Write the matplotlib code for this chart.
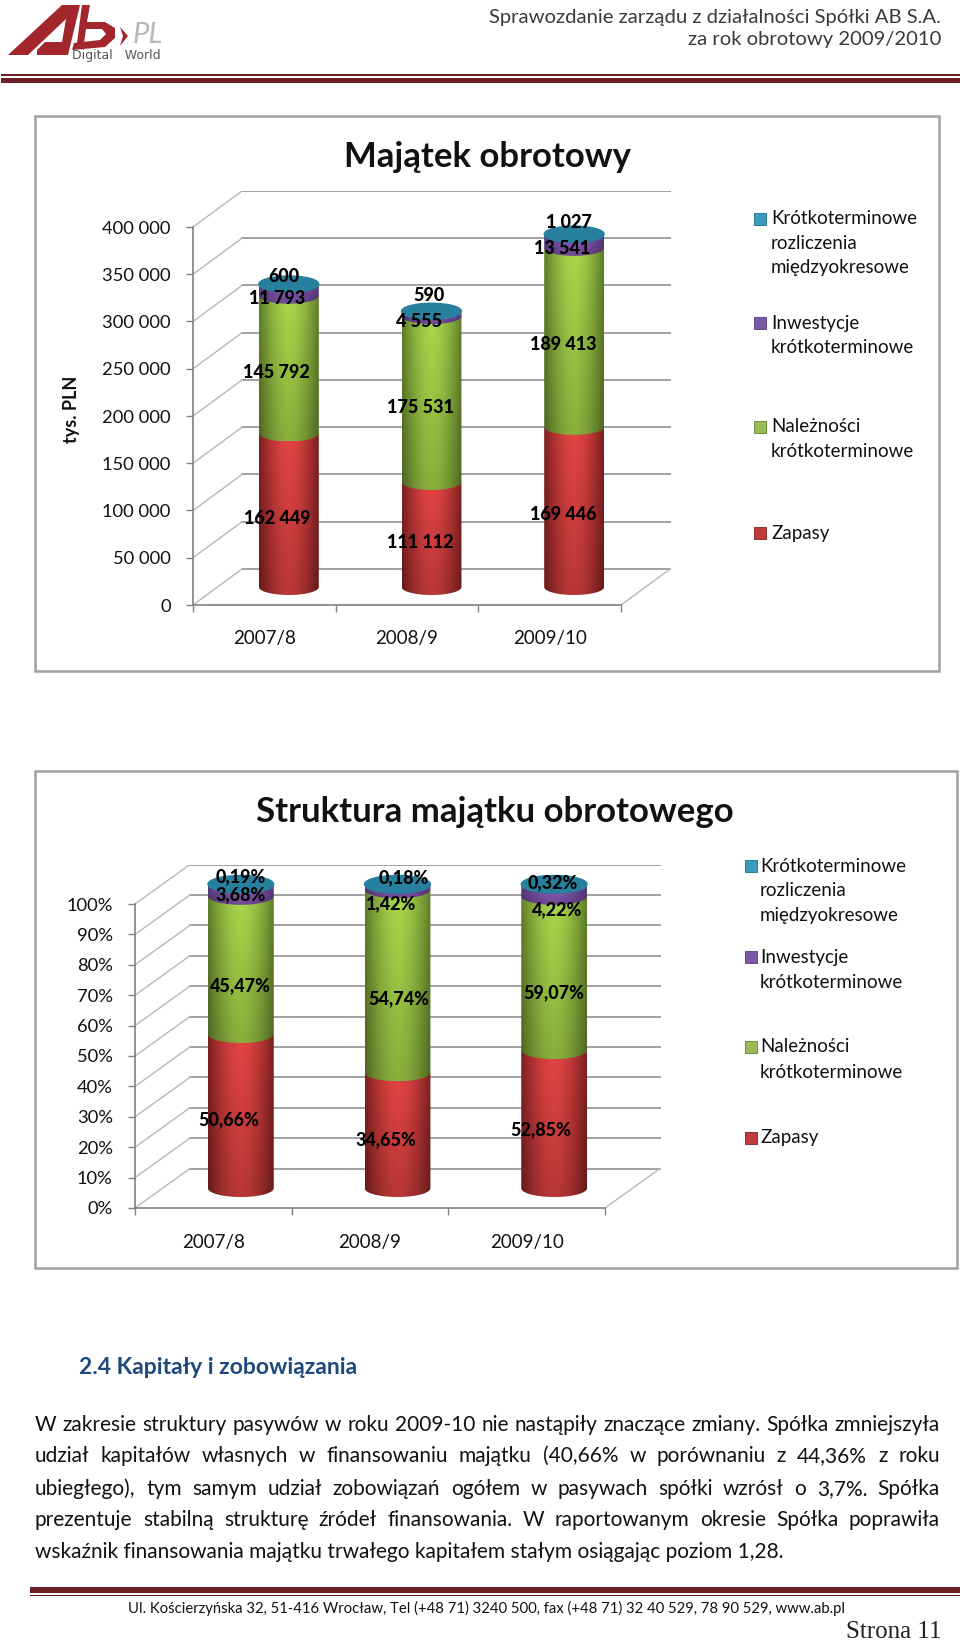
import numpy as np
import matplotlib
matplotlib.use("Agg")
import matplotlib.pyplot as plt
from matplotlib.patches import Rectangle, Polygon, PathPatch
from matplotlib.path import Path
from matplotlib.ticker import FuncFormatter

plt.rcParams["font.family"] = ["Lato", "DejaVu Sans"]

W, H = 960, 1642

# Dane
years = ["2007/8", "2008/9", "2009/10"]
series_names = ["Zapasy", "Należności\nkrótkoterminowe", "Inwestycje\nkrótkoterminowe",
                "Krótkoterminowe\nrozliczenia\nmiędzyokresowe"]
zapasy = [162449, 111112, 169446]
naleznosci = [145792, 175531, 189413]
inwestycje = [11793, 4555, 13541]
rozliczenia = [600, 590, 1027]

zapasy_pct = [50.66, 34.65, 52.85]
naleznosci_pct = [45.47, 54.74, 59.07]
inwestycje_pct = [3.68, 1.42, 4.22]
rozliczenia_pct = [0.19, 0.18, 0.32]

ticks_pln = [0, 50000, 100000, 150000, 200000, 250000, 300000, 350000, 400000]
ticks_pct = [0, 10, 20, 30, 40, 50, 60, 70, 80, 90, 100]

title_1 = "Majątek obrotowy"
title_2 = "Struktura majątku obrotowego"
unit_label = "tys. PLN"
header_lines = ["Sprawozdanie zarządu z działalności Spółki AB S.A.", "za rok obrotowy 2009/2010"]
heading = "2.4 Kapitały i zobowiązania"
body_lines = [
    "W zakresie struktury pasywów w roku 2009-10 nie nastąpiły znaczące zmiany. Spółka zmniejszyła",
    "udział kapitałów własnych w finansowaniu majątku (40,66% w porównaniu z 44,36% z roku",
    "ubiegłego), tym samym udział zobowiązań ogółem w pasywach spółki wzrósł o 3,7%.  Spółka",
    "prezentuje stabilną strukturę źródeł finansowania. W raportowanym okresie Spółka poprawiła",
    "wskaźnik finansowania majątku trwałego kapitałem stałym osiągając poziom 1,28.",
]
footer = "Ul. Kościerzyńska 32, 51-416 Wrocław, Tel (+48 71) 3240 500, fax (+48 71) 32 40 529, 78 90 529, www.ab.pl"
page = "Strona 11"

# Kolory (jasny srodek, ciemna krawedz)
light = ["#e24444", "#a8d64a", "#8a5ab5", "#2f8fae"]
dark = ["#7d1f1f", "#5f7d2a", "#5a3a80", "#1f6f8a"]
swatch = ["#c0393b", "#9bbb59", "#7a5aa6", "#3a9cbc"]
GRID = "#9a9a9a"
TEXT = "#111111"

# przesuniecia etykiet w pikselach (x, w dol): wiersz = seria, kolumna = rok
offs_pln = [[(-12, 8), (-11, 8), (-11, 8)],
            [(-12, 8), (-11, 8), (-11, 7)],
            [(-12, 8), (-12, 8), (-12, 7)],
            [(-5, -8), (-3, -16), (-5, -12)]]
offs_pct = [[(-12, 8), (-12, 9), (-13, 10)],
            [(0, 21), (1, 18), (0, 20)],
            [(0, 4), (-6, 16), (3, 19)],
            [(0, -8), (6, -7), (-1, -2)]]

fig = plt.figure(figsize=(W / 100, H / 100), dpi=100)

# warstwa strony w pikselach
page_ax = fig.add_axes([0, 0, 1, 1])
page_ax.set_xlim(0, W)
page_ax.set_ylim(H, 0)
page_ax.axis("off")


def hex_rgb(c):
    return np.array(matplotlib.colors.to_rgb(c))


def cylinder(ax, x, y0, y1, hw, cap, idx):
    # gradient poziomy, przyciety do ksztaltu walca
    u = np.linspace(0, 1, 64)
    t = 1 - np.abs(2 * u - 1) ** 1.7
    v = np.linspace(0.82, 1, 16)[:, None, None]
    rgb = hex_rgb(dark[idx]) + (hex_rgb(light[idx]) - hex_rgb(dark[idx])) * t[:, None]
    img = np.clip(rgb[None, :, :] * v, 0, 1)
    im = ax.imshow(img, extent=(x - hw, x + hw, y0 - cap, y1), origin="lower",
                   aspect="auto", zorder=3, interpolation="bilinear")
    a = np.linspace(np.pi, 2 * np.pi, 40)
    px = list(x + hw * np.cos(a)) + [x + hw, x - hw]
    py = list(y0 + cap * np.sin(a)) + [y1, y1]
    clip = PathPatch(Path(np.column_stack([px, py])), transform=ax.transData)
    im.set_clip_path(clip)


def draw_chart(rect, n_px, y_scale, depth, yticks, fmt, stacks, labels, offs, tick_pad, x_pad):
    left, top, right, bottom = rect
    px_cat = n_px / 3
    ax = fig.add_axes([left / W, 1 - bottom / H, (right - left) / W, (bottom - top) / H])
    ax.patch.set_alpha(0)
    dx = depth[0] / px_cat
    dy = depth[1] / y_scale
    ax.set_xlim(-0.5, -0.5 + (right - left) / px_cat)
    ax.set_ylim(0, (bottom - top) / y_scale)
    ax.set_autoscale_on(False)

    # sciany: siatka z tylu i ukosne linie z boku
    for v in yticks:
        ax.plot([-0.5 + dx, ax.get_xlim()[1]], [v + dy, v + dy], color=GRID, lw=1.3, zorder=1)
        ax.plot([-0.5, -0.5 + dx], [v, v + dy], color="#b8b8b8", lw=1.0, zorder=1)
    ax.plot([2.5, 2.5 + dx], [0, dy], color="#b8b8b8", lw=1.0, zorder=1)

    hw = 0.21
    cap = 8 / y_scale * (n_px / 428)
    stacks = np.array(stacks, dtype=float)
    for j in range(3):
        base = 0
        cx = j + dx / 2
        for i in range(len(stacks)):
            h = stacks[i][j]
            y0 = base + dy / 2
            cylinder(ax, cx, y0, y0 + h, hw, cap, i)
            off = (offs[i][j][0], -offs[i][j][1])
            ax.annotate(labels[i][j], (cx, y0 + h / 2), xytext=off, textcoords="offset pixels",
                        ha="center", va="center", fontsize=13, fontweight="black", color="black",
                        zorder=6, annotation_clip=False)
            base += h
        # wierzch walca
        a = np.linspace(0, 2 * np.pi, 60)
        ax.fill(cx + hw * np.cos(a), base + dy / 2 + cap * np.sin(a), color="#28809f", zorder=4)

    for s in ["top", "right"]:
        ax.spines[s].set_visible(False)
    ax.spines["left"].set_bounds(yticks[0], yticks[-1])
    ax.spines["bottom"].set_bounds(-0.5, 2.5)
    for s in ["left", "bottom"]:
        ax.spines[s].set_color("#808080")
        ax.spines[s].set_linewidth(1.2)
    ax.set_yticks(yticks)
    ax.yaxis.set_major_formatter(FuncFormatter(fmt))
    ax.tick_params(axis="y", length=5, width=1, color="#808080", pad=tick_pad, labelsize=13.2, labelcolor=TEXT)
    ax.set_xticks([-0.5, 0.5, 1.5, 2.5])
    ax.set_xticklabels([])
    ax.set_xticks([0, 1, 2], minor=True)
    ax.set_xticklabels(years, minor=True)
    ax.tick_params(axis="x", which="major", length=5, width=1, color="#808080")
    ax.tick_params(axis="x", which="minor", length=0, pad=x_pad, labelsize=13.5, labelcolor=TEXT)
    return ax


def pln(v, pos=None):
    return f"{int(v):,}".replace(",", " ")


def pct_label(v):
    return f"{v:.2f}%".replace(".", ",")


# Wykres 1
page_ax.add_patch(Rectangle((35, 116), 904, 555, fc="white", ec="#a0a0a0", lw=1.8, zorder=0))
stack_pln = [zapasy, naleznosci, inwestycje, rozliczenia]
labels_pln = [[pln(v) for v in row] for row in stack_pln]
draw_chart((193, 191, 671, 605), 428, 378 / 400000, (49, 36), ticks_pln, pln,
           stack_pln, labels_pln, offs_pln, 11, 18)
page_ax.text(487, 157, title_1, ha="center", va="center", fontsize=25, fontweight="bold", color=TEXT)
page_ax.text(72, 409, unit_label, rotation=90, ha="center", va="center", fontsize=13, fontweight="bold", color=TEXT)

# Wykres 2: slupki znormalizowane do 100%
page_ax.add_patch(Rectangle((35, 771), 922, 497, fc="white", ec="#a0a0a0", lw=1.8, zorder=0))
stack_raw = np.array([zapasy_pct, naleznosci_pct, inwestycje_pct, rozliczenia_pct])
stack_norm = stack_raw / stack_raw.sum(axis=0) * 100
labels_pct = [[pct_label(v) for v in row] for row in stack_raw]
draw_chart((135, 865, 661, 1208), 470, 3.04, (55, 39.5), ticks_pct, lambda v, pos=None: f"{int(v)}%",
           stack_norm, labels_pct, offs_pct, 11, 19)
page_ax.text(495, 812, title_2, ha="center", va="center", fontsize=25, fontweight="bold", color=TEXT)


# Legendy
def legend(sq_x, txt_x, ys, step):
    for i, y in zip([3, 2, 1, 0], ys):
        page_ax.add_patch(Rectangle((sq_x, y - 6), 12, 12, fc=swatch[i], ec=dark[i], lw=0.6, zorder=2))
        for k, line in enumerate(series_names[i].split("\n")):
            page_ax.text(txt_x, y + k * step, line, ha="left", va="center", fontsize=13.5, color=TEXT)


legend(754, 771, [219, 323, 427, 533], 24.5)
legend(745, 760, [866, 957, 1047, 1138], 25)

# Naglowek
page_ax.text(941, 17, header_lines[0], ha="right", va="center", fontsize=14.6, color="#3a3a3a")
page_ax.text(941, 39, header_lines[1], ha="right", va="center", fontsize=14.6, color="#3a3a3a")
MAROON = "#6a2024"
page_ax.add_patch(Rectangle((1, 74), 959, 2, fc=MAROON, lw=0))
page_ax.add_patch(Rectangle((1, 78), 959, 5, fc=MAROON, lw=0))

# Logo
LOGO = "#a3262c"
page_ax.add_patch(Polygon([(8, 55), (28, 55), (66, 19), (62, 42), (45, 42), (37, 50), (37, 55),
                           (68, 55), (80, 5), (62, 5)], fc=LOGO, lw=0))
page_ax.add_patch(Polygon([(82, 5), (90, 5), (87, 22), (105, 22), (115, 28), (115, 38), (105, 47),
                           (72, 50), (74, 43), (100, 40), (106, 34), (102, 29), (86, 29), (84, 43),
                           (77, 43)], fc=LOGO, lw=0))
page_ax.add_patch(Polygon([(120, 27), (128, 36), (120, 46), (123, 36)], fc=LOGO, lw=0))
page_ax.text(133, 35, "PL", ha="left", va="center", fontsize=21, style="italic", color="#b8b8b8")
page_ax.text(72, 55, "Digital   World", ha="left", va="center", fontsize=9,
             family="DejaVu Sans", color="#555555")

# Tekst
page_ax.text(79, 1367, heading, ha="left", va="center", fontsize=16.5, fontweight="bold", color="#1f497d")

renderer = fig.canvas.get_renderer()
line_ys = [1425, 1456, 1489, 1520, 1552]
L, R = 35, 940
BODY_FS = 15
for n, (line, y) in enumerate(zip(body_lines, line_ys)):
    if n == len(body_lines) - 1:
        page_ax.text(L, y, line, ha="left", va="center", fontsize=BODY_FS, color=TEXT)
        continue
    # justowanie: slowa rozstawione rowno na szerokosc kolumny
    words = line.split()
    items = [page_ax.text(L, y, w, ha="left", va="center", fontsize=BODY_FS, color=TEXT) for w in words]
    widths = [t.get_window_extent(renderer).width for t in items]
    gap = (R - L - sum(widths)) / (len(words) - 1)
    x = L
    for t, wd in zip(items, widths):
        t.set_x(x)
        x += wd + gap

# Stopka
page_ax.add_patch(Rectangle((30, 1587), 930, 6, fc=MAROON, lw=0))
page_ax.add_patch(Rectangle((30, 1595), 930, 1.5, fc=MAROON, lw=0))
page_ax.text(487, 1608, footer, ha="center", va="center", fontsize=10.75, color=TEXT)
page_ax.text(941, 1632, page, ha="right", va="center", fontsize=18, family="Liberation Serif", color="#222222")

fig.savefig("out.png", dpi=100)
